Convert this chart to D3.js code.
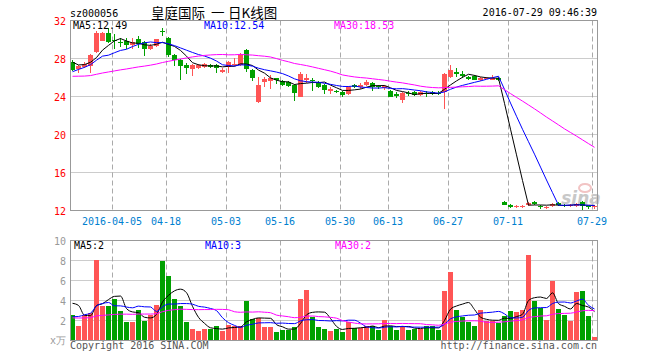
<!DOCTYPE html>
<html>
<head>
<meta charset="utf-8">
<title>皇庭国际 日K线图</title>
<script src="https://cdn.jsdelivr.net/npm/d3@7"></script>
<style>
body { margin: 0; background: #fff; }
text { font-family: "DejaVu Sans Mono", monospace; font-size: 10px; }
.grid-h { stroke: #999; stroke-dasharray: 1,1; }
.grid-v { stroke: #aaa; stroke-dasharray: 5,3; }
.frame { fill: none; stroke: #999; }
</style>
</head>
<body>
<script>
// daily bars, 2016-03-24 .. 2016-07-29 (volume in 10k lots)
var open  = [27.6,26.9,27.1,27.2,28.7,29.9,30.7,29.9,29.7,29.8,29.4,30.0,29.7,29.0,29.3,30.85,30.2,28.4,27.8,27.3,
             26.9,27.0,27.1,27.3,27.3,26.6,27.1,27.3,27.3,28.9,26.8,23.4,25.5,25.6,25.9,25.6,25.5,25.2,24.0,25.7,
             25.7,25.4,25.2,24.6,24.6,24.5,24.3,25.2,25.0,25.2,25.4,25.1,24.9,24.6,24.3,23.7,24.4,24.5,24.2,24.4,
             24.5,24.4,24.5,26.1,26.6,26.4,26.1,26.2,25.8,25.9,25.8,26.0,12.9,12.6,12.4,12.4,12.6,12.9,12.5,12.3,
             12.5,12.8,12.6,12.5,12.5,12.9,12.5,12.4];
var high  = [27.8,27.3,27.6,28.5,30.9,30.8,31.2,30.6,30.2,30.2,30.2,30.4,29.8,29.5,30.1,31.25,30.3,28.5,27.9,27.5,
             27.4,27.4,27.5,27.4,27.4,27.0,27.7,28.0,28.6,29.0,26.9,26.1,26.1,26.3,26.0,25.7,25.6,25.3,26.6,26.4,
             25.9,25.6,25.3,25.0,24.7,24.6,25.1,25.3,25.4,25.7,25.5,25.2,25.2,24.7,24.5,24.5,24.6,24.6,24.6,24.6,
             24.6,24.6,26.5,27.3,27.0,26.7,26.2,26.3,26.1,26.1,26.3,26.1,13.0,12.7,12.6,12.6,12.9,13.0,12.6,12.5,
             12.8,12.9,12.7,12.7,12.8,13.0,12.5,12.6];
var low   = [26.7,26.5,27.0,26.5,28.6,29.8,29.6,29.0,29.2,29.0,29.0,29.1,28.3,28.9,29.2,30.4,28.2,27.2,25.7,26.4,
             26.2,26.9,27.0,27.0,26.5,26.5,26.5,27.2,27.2,26.6,25.6,23.3,25.0,24.8,25.3,25.1,25.0,23.5,23.9,25.4,
             24.6,24.9,24.3,24.3,24.4,24.0,24.2,24.9,24.8,25.1,24.6,24.8,24.7,24.0,23.8,23.3,24.1,24.1,24.1,23.9,
             24.2,24.2,22.7,25.9,26.1,25.9,25.7,25.7,25.6,25.8,25.7,25.6,12.6,12.3,12.3,12.3,12.5,12.6,12.2,12.2,
             12.4,12.5,12.4,12.4,12.4,12.1,12.2,12.2];
var close = [26.8,27.2,27.4,28.4,30.7,30.7,29.7,29.8,29.6,29.4,29.7,29.5,29.0,29.3,30.0,30.75,28.4,27.9,27.2,27.0,
             27.3,27.3,27.4,27.1,27.0,26.8,27.6,27.4,28.4,26.9,26.0,25.2,25.8,25.9,25.7,25.2,25.1,24.4,26.4,25.9,
             25.6,25.0,24.7,24.8,24.5,24.2,25.0,25.0,25.2,25.5,25.0,25.0,25.1,24.0,24.1,24.4,24.3,24.2,24.5,24.3,
             24.3,24.3,26.4,26.8,26.4,26.2,25.9,25.8,26.0,26.0,26.0,25.8,12.6,12.4,12.5,12.5,12.8,12.7,12.4,12.4,
             12.7,12.6,12.5,12.6,12.7,12.5,12.4,12.5];
var volume = [2.6,1.43,2.6,2.77,8.1,3.5,3.5,4.2,2.93,1.83,1.83,3.1,1.93,2.6,3.6,8.0,6.43,4.2,3.43,1.83,
              1.2,0.93,1.2,1.2,1.43,0.93,1.53,1.43,1.43,4.0,2.17,2.27,1.33,1.33,0.83,1.1,1.1,1.33,4.17,5.1,
              2.37,1.33,1.2,1.0,1.17,0.83,1.83,1.27,1.27,1.43,1.43,1.03,2.03,1.43,1.03,1.43,1.1,1.2,1.2,1.43,
              1.43,1.03,4.93,6.83,3.03,2.37,1.83,1.43,3.03,1.93,1.93,1.77,2.5,2.93,2.83,3.1,8.6,3.93,3.27,2.1,
              5.93,3.2,2.6,1.93,4.83,4.93,2.43,0.33];

// the 29 sessions before the window, only needed for the moving averages
var prevClose = [26.9,27.0,26.8,26.6,26.7,26.4,26.5,26.3,26.6,26.4,26.2,26.5,26.3,26.4,26.0,
                 24.6,24.2,23.8,23.6,23.9,24.8,25.2,25.6,26.0,26.4,28.7,27.2,27.2,28.2];
var prevVolume = [2.0,2.4,1.9,2.6,2.2,2.1,2.5,2.3,1.8,2.4,2.2,2.0,2.6,2.3,2.1,2.5,2.2,1.9,2.3,2.0,
                  1.1,0.9,1.2,0.8,1.1,2.5,7.5,3.0,3.0];

var tickIdx = [7,16,26,35,45,53,63,73,87];
var tickLabels = ["2016-04-05","04-18","05-03","05-16","05-30","06-13","06-27","07-11","07-29"];
var priceTicks = [12,16,20,24,28,32];
var volTicks = [2,4,6,8,10];
var maLabels = ["MA5:12.49","MA10:12.54","MA30:18.53"];
var volMaLabels = ["MA5:2","MA10:3","MA30:2"];
var maDays = [5,10,30];
var titleParts = ["皇庭国际", "一", "日K线图"];

var red = '#ff5555', green = '#00a000';
var maColors = ['#000', '#0000ff', '#ff00ff'];

var w = 660, h = 360;
var svg = d3.select('body').append('svg')
    .attr('width', w)
    .attr('height', h);

var n = close.length;
var x = d3.scaleBand().domain(d3.range(n))
    .range([69.5, 597.5]).paddingInner(1/6).paddingOuter(1/12);
var bw = x.bandwidth();
var y = d3.scaleLinear().domain([12, 32]).range([210.5, 20.5]);
var yv = d3.scaleLinear().domain([0, 10]).range([340.5, 240.5]);

function ma(vals, prev, k) {
    var all = prev.concat(vals);
    return vals.map(function(d, i) {
        var j = i + prev.length;
        return d3.mean(all.slice(j - k + 1, j + 1));
    });
}

// header
svg.append('text').attr('x', 70).attr('y', 16.5).text('sz000056');
var tx = [151, 211, 228];
titleParts.forEach(function(t, i) {
    svg.append('text').attr('x', tx[i]).attr('y', 17.5)
        .style('font-family', '"Noto Sans CJK SC"').style('font-size', '13.5px')
        .text(t);
});
svg.append('text').attr('x', 597).attr('y', 16).attr('text-anchor', 'end')
    .text('2016-07-29 09:46:39');

// grids
[[20.5, 210.5], [240.5, 340.5]].forEach(function(r) {
    svg.selectAll(null).data(tickIdx).enter().append('line')
        .attr('class', 'grid-v')
        .attr('x1', function(d) { return x(d) + 0.5 })
        .attr('x2', function(d) { return x(d) + 0.5 })
        .attr('y1', r[0]).attr('y2', r[1]);
});
svg.selectAll('line.ph').data(priceTicks.slice(1, -1)).enter().append('line')
    .attr('class', 'grid-h ph')
    .attr('x1', 70.5).attr('x2', 597.5)
    .attr('y1', function(d) { return y(d) }).attr('y2', function(d) { return y(d) });
svg.selectAll('line.vh').data(volTicks.slice(0, -1)).enter().append('line')
    .attr('class', 'grid-h vh')
    .attr('x1', 70.5).attr('x2', 597.5)
    .attr('y1', function(d) { return yv(d) }).attr('y2', function(d) { return yv(d) });

// sina watermark
svg.append('text').attr('x', 581).attr('y', 204).attr('text-anchor', 'middle')
    .style('font-family', 'DejaVu Sans').style('font-size', '17px')
    .style('font-weight', 'bold').style('font-style', 'italic')
    .attr('fill', '#c8c8c8').text('sina');
svg.append('ellipse').attr('cx', 585).attr('cy', 188).attr('rx', 6).attr('ry', 4)
    .attr('fill', 'none').attr('stroke', '#f2c4c4').attr('stroke-width', 2);

// axes labels
svg.selectAll('text.py').data(priceTicks).enter().append('text')
    .attr('class', 'py')
    .attr('x', 66).attr('y', function(d) { return y(d) + 4 })
    .attr('text-anchor', 'end').attr('fill', '#f00')
    .text(function(d) { return d });
svg.selectAll('text.vy').data(volTicks).enter().append('text')
    .attr('class', 'vy')
    .attr('x', 66).attr('y', function(d) { return yv(d) + 4 })
    .attr('text-anchor', 'end').attr('fill', '#999')
    .text(function(d) { return d });
svg.append('text').attr('x', 66).attr('y', 344).attr('text-anchor', 'end')
    .attr('fill', '#999').text('x万');
svg.selectAll('text.dx').data(tickIdx).enter().append('text')
    .attr('class', 'dx')
    .attr('x', function(d) { return x(d) })
    .attr('y', 225).attr('text-anchor', 'middle').attr('fill', '#0080d0')
    .text(function(d, i) { return tickLabels[i] });

// candles
var candle = svg.selectAll('g.k').data(d3.range(n)).enter().append('g')
    .attr('class', 'k')
    .attr('fill', function(i) { return close[i] >= open[i] ? red : green })
    .attr('stroke', function(i) { return close[i] >= open[i] ? red : green });
candle.append('line')
    .attr('x1', function(i) { return x(i) + 2.5 })
    .attr('x2', function(i) { return x(i) + 2.5 })
    .attr('y1', function(i) { return Math.round(y(high[i])) })
    .attr('y2', function(i) { return Math.round(y(low[i])) });
candle.append('rect')
    .attr('stroke', 'none')
    .attr('x', function(i) { return x(i) })
    .attr('width', bw)
    .attr('y', function(i) { return Math.round(y(Math.max(open[i], close[i]))) })
    .attr('height', function(i) {
        return Math.max(1, Math.round(Math.abs(y(open[i]) - y(close[i]))));
    });

// volume bars
svg.selectAll('rect.v').data(d3.range(n)).enter().append('rect')
    .attr('class', 'v')
    .attr('fill', function(i) { return close[i] >= open[i] ? red : green })
    .attr('x', function(i) { return x(i) })
    .attr('width', bw)
    .attr('y', function(i) { return Math.round(yv(volume[i])) })
    .attr('height', function(i) { return 340 - Math.round(yv(volume[i])) });

// moving averages
maDays.forEach(function(k, j) {
    var line = d3.line()
        .x(function(d, i) { return x(i) + 2.5 })
        .y(function(d) { return y(d) });
    svg.append('path').datum(ma(close, prevClose, k))
        .attr('d', line).attr('fill', 'none')
        .attr('stroke', maColors[j]).attr('stroke-width', 1);

    var vline = d3.line()
        .curve(d3.curveMonotoneX)
        .x(function(d, i) { return x(i) + 2.5 })
        .y(function(d) { return yv(d) });
    svg.append('path').datum(ma(volume, prevVolume, k))
        .attr('d', vline).attr('fill', 'none')
        .attr('stroke', maColors[j]).attr('stroke-width', 1);
});

// frames
svg.append('rect').attr('class', 'frame')
    .attr('x', 70.5).attr('y', 20.5).attr('width', 527).attr('height', 190);
svg.append('rect').attr('class', 'frame')
    .attr('x', 70.5).attr('y', 240.5).attr('width', 527).attr('height', 100);

// legends
var lx = [73, 204, 334];
maLabels.forEach(function(t, j) {
    svg.append('text').attr('x', lx[j]).attr('y', 29).attr('fill', maColors[j]).text(t);
});
volMaLabels.forEach(function(t, j) {
    svg.append('text').attr('x', lx[j] + 1).attr('y', 249).attr('fill', maColors[j]).text(t);
});

// footer
svg.append('text').attr('x', 70).attr('y', 349).attr('fill', '#555')
    .text('Copyright 2016 SINA.COM');
svg.append('text').attr('x', 597).attr('y', 349).attr('text-anchor', 'end').attr('fill', '#555')
    .text('http://finance.sina.com.cn');
</script>
</body>
</html>
